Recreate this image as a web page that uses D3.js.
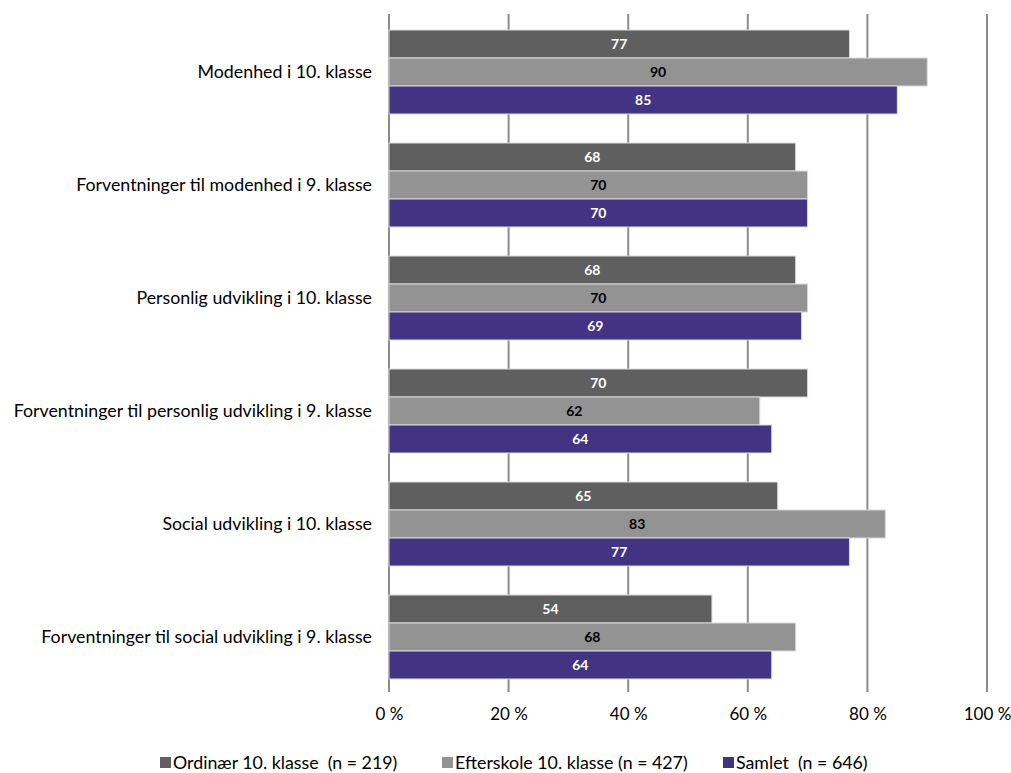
<!DOCTYPE html>
<html><head><meta charset="utf-8">
<script src="https://cdn.jsdelivr.net/npm/d3@7"></script>
<style>body{margin:0;background:#fff;} svg{display:block;font-family:Lato,"Open Sans",sans-serif;} text{white-space:pre;}</style>
</head><body>
<svg id="c" width="1011" height="773"></svg>
<script>
const categories = ["Modenhed i 10. klasse","Forventninger til modenhed i 9. klasse","Personlig udvikling i 10. klasse","Forventninger til personlig udvikling i 9. klasse","Social udvikling i 10. klasse","Forventninger til social udvikling i 9. klasse"];
const seriesNames = ["Ordinær 10. klasse  (n = 219)","Efterskole 10. klasse (n = 427)","Samlet  (n = 646)"];
const ordinaer = [77,68,68,70,65,54];
const efterskole = [90,70,70,62,83,68];
const samlet = [85,70,69,64,77,64];
const tickValues = [0,20,40,60,80,100];
const colors = ["#5f5f5f","#939393","#433483"];
const labelColors = ["#ffffff","#000000","#ffffff"];
const series = [ordinaer, efterskole, samlet];

const svg = d3.select("#c");
const x = d3.scaleLinear().domain([0,100]).range([389,987]);
const y = d3.scaleBand().domain(categories).range([15.5,693.5]).paddingInner(0.257).paddingOuter(0.1285);
const y1 = d3.scaleBand().domain([0,1,2]).range([0,y.bandwidth()]);

svg.append("g").selectAll("line").data(tickValues).join("line")
  .attr("x1",d=>x(d)).attr("x2",d=>x(d)).attr("y1",14).attr("y2",692)
  .attr("stroke","#8c8c8c").attr("stroke-width",2);

const g = svg.append("g");
categories.forEach((c,i)=>{
  series.forEach((s,j)=>{
    const yy = y(c)+y1(j);
    g.append("rect").attr("x",x(0)).attr("y",yy).attr("width",x(s[i])-x(0)).attr("height",y1.bandwidth())
      .attr("fill",colors[j]).attr("stroke","#d9d9d9").attr("stroke-width",1);
    g.append("text").attr("x",(x(0)+x(s[i]))/2).attr("y",yy+y1.bandwidth()/2).attr("dy","0.35em")
      .attr("text-anchor","middle").attr("font-size",14).attr("font-weight","bold").attr("fill",labelColors[j]).text(s[i]);
  });
});

svg.append("g").selectAll("text").data(categories).join("text")
  .attr("x",372).attr("y",d=>y(d)+y.bandwidth()/2).attr("dy","0.35em").attr("text-anchor","end")
  .attr("font-size",17.8).attr("fill","#000").text(d=>d);

const xa = d3.axisBottom(x).tickValues(tickValues).tickSize(0).tickFormat(d=>d+" %");
const ax = svg.append("g").attr("transform","translate(0,705)").call(xa);
ax.select(".domain").remove();
ax.selectAll("text").attr("font-size",17).attr("fill","#000").attr("font-family","Lato, sans-serif");

const lx = [160,442,723];
seriesNames.forEach((n,j)=>{
  svg.append("rect").attr("x",lx[j]).attr("y",757).attr("width",11).attr("height",11).attr("fill",colors[j]);
  svg.append("text").attr("x",lx[j]+13).attr("y",763).attr("dy","0.35em").attr("font-size",17.8).attr("fill","#000").text(n);
});
</script>
</body></html>
